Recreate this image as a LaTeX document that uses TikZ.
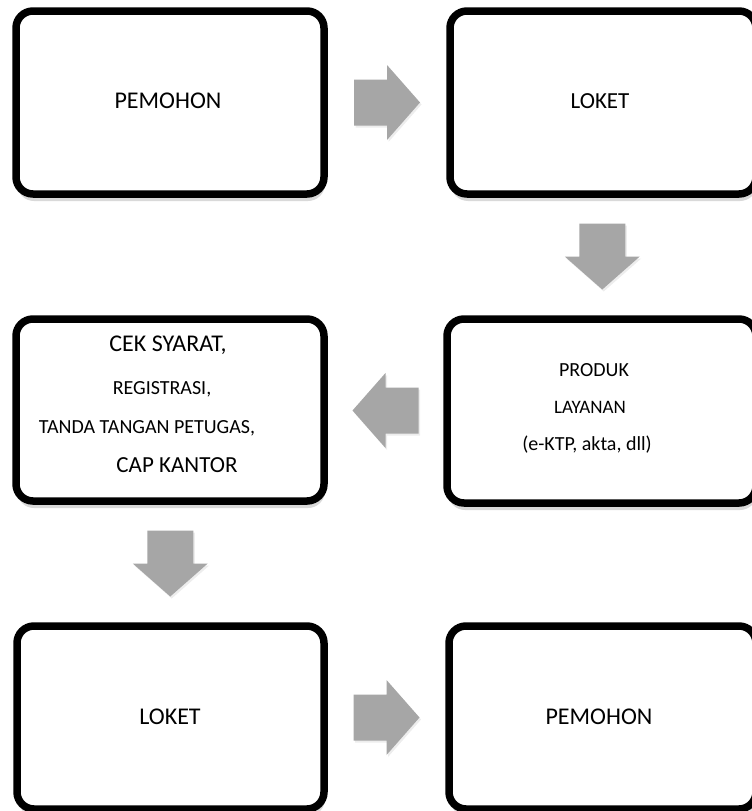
\documentclass[tikz,border=0pt]{standalone}
\usepackage{fontspec}
\setmainfont{Carlito}
\usetikzlibrary{shadows,calc}
\definecolor{arrowgray}{RGB}{166,166,166}
\tikzset{
  box/.style={draw=black, line width=7.5pt, rounded corners=17pt, fill=white,
    inner sep=0pt, drop shadow={shadow xshift=1pt, shadow yshift=-7pt, opacity=0.15, fill=black}},
  lbl/.style={anchor=base, inner sep=0pt, font=\fontsize{24}{28}\selectfont},
  lblsmall/.style={anchor=base, inner sep=0pt, font=\fontsize{20}{24}\selectfont},
  blockarrow/.pic={
    \fill[arrowgray, drop shadow={shadow xshift=1.5pt, shadow yshift=-2pt, opacity=0.07, fill=black}]
      (-33,-23) -- (0,-23) -- (0,-37.5) -- (33,0) -- (0,37.5) -- (0,23) -- (-33,23) -- cycle;
  }
}
\begin{document}
\begin{tikzpicture}[x=1pt, y=-1pt]
\useasboundingbox[fill=white] (0,0) rectangle (752,811);
% boxes
\node[box, minimum width=308pt, minimum height=183pt] (p1) at (170,102.5) {};
\node[box, minimum width=306pt, minimum height=183pt] (l1) at (603,102.5) {};
\node[box, minimum width=308pt, minimum height=182pt] (cek) at (170,410) {};
\node[box, minimum width=309pt, minimum height=184pt] (prod) at (601.5,411) {};
\node[box, minimum width=307pt, minimum height=183pt] (l2) at (170.5,717.5) {};
\node[box, minimum width=307pt, minimum height=183pt] (p2) at (602.5,717.5) {};
% labels
\node[lbl] (tp1) at (168,108.5) {PEMOHON};
\node[lbl, font=\fontsize{23}{28}\selectfont] (tl1) at (600,108.5) {LOKET};
\node[lbl] (tc1) at (168,351) {CEK SYARAT,};
\node[lblsmall] (tc2) at (162,394.5) {REGISTRASI,};
\node[lblsmall] (tc3) at (147,433.5) {TANDA TANGAN PETUGAS,};
\node[lbl, font=\fontsize{23}{28}\selectfont] (tc4) at (177,472.5) {CAP KANTOR};
\node[lblsmall] (tq1) at (594,376.5) {PRODUK};
\node[lbl, font=\fontsize{19}{24}\selectfont] (tq2) at (590,413) {LAYANAN};
\node[lblsmall] (tq3) at (587,450) {(e-KTP, akta, dll)};
\node[lbl] (tl2) at (170,724.5) {LOKET};
\node[lbl] (tp2) at (599,724.5) {PEMOHON};
% connectors
\coordinate (a1) at ($(p1.east)!0.5!(l1.west)$);
\coordinate (a2) at ($(l1.south)!0.5!(prod.north)$);
\coordinate (a3) at ($(cek.east)!0.5!(prod.west)$);
\coordinate (a4) at ($(cek.south)!0.5!(l2.north)$);
\coordinate (a5) at ($(l2.east)!0.5!(p2.west)$);
\pic at (a1) {blockarrow};
\pic[rotate=-90] at (a2) {blockarrow};
\pic[rotate=180] at (a3) {blockarrow};
\pic[rotate=-90] at (a4) {blockarrow};
\pic at (a5) {blockarrow};
\end{tikzpicture}
\end{document}
